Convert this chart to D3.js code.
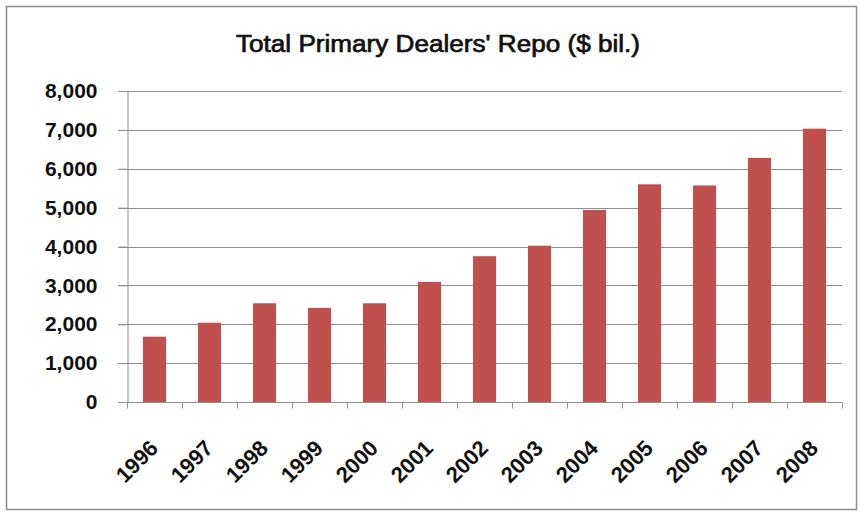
<!DOCTYPE html>
<html>
<head>
<meta charset="utf-8">
<script src="https://cdn.jsdelivr.net/npm/d3@7"></script>
<style>
  body { margin: 0; background: #fff; }
  svg { display: block; }
  text { font-family: "Liberation Sans", Arial, sans-serif; fill: #111; }
</style>
</head>
<body>
<div id="chart"></div>
<script>
var years = ["1996", "1997", "1998", "1999", "2000", "2001", "2002", "2003", "2004", "2005", "2006", "2007", "2008"];
var repo = [1680, 2040, 2540, 2420, 2540, 3090, 3750, 4020, 4940, 5600, 5570, 6280, 7030];
var yTicks = [0, 1000, 2000, 3000, 4000, 5000, 6000, 7000, 8000];
var chartTitle = "Total Primary Dealers' Repo ($ bil.)";

var w = 860, h = 513;
var margin = { top: 91, right: 18, bottom: 111, left: 127 };

var svg = d3.select("#chart").append("svg")
  .attr("width", w)
  .attr("height", h);

// outer frame
svg.append("rect")
  .attr("x", 6.5).attr("y", 6.5)
  .attr("width", 850).attr("height", 503)
  .attr("fill", "#fff")
  .attr("stroke", "#8c8c8c")
  .attr("stroke-width", 1.5);

// title: regular face thickened a little with a thin stroke
svg.append("text")
  .attr("x", 438).attr("y", 52)
  .attr("text-anchor", "middle")
  .attr("textLength", 404)
  .attr("lengthAdjust", "spacingAndGlyphs")
  .attr("stroke", "#111")
  .attr("stroke-width", 0.7)
  .style("font-size", "23px")
  .text(chartTitle);

var x = d3.scaleBand()
  .domain(years)
  .range([margin.left, w - margin.right])
  .paddingInner(0.58)
  .paddingOuter(0.29);

var y = d3.scaleLinear()
  .domain([0, 8000])
  .range([h - margin.bottom, margin.top]);

// gridlines
svg.append("g")
  .selectAll("line")
  .data(yTicks.slice(1))
  .enter().append("line")
  .attr("x1", margin.left - 9)
  .attr("x2", w - margin.right)
  .attr("y1", function(d) { return Math.round(y(d)) + 0.5; })
  .attr("y2", function(d) { return Math.round(y(d)) + 0.5; })
  .attr("stroke", "#8f8f8f")
  .attr("stroke-width", 1);

// bars
svg.append("g")
  .selectAll("rect")
  .data(repo)
  .enter().append("rect")
  .attr("x", function(d, i) { return x(years[i]); })
  .attr("y", function(d) { return y(d); })
  .attr("width", x.bandwidth())
  .attr("height", function(d) { return y(0) - y(d); })
  .attr("fill", "#c0504d");

// y axis
var yAxis = svg.append("g")
  .attr("transform", "translate(" + (margin.left + 0.5) + ",0)")
  .call(d3.axisLeft(y).tickValues(yTicks).tickSize(9).tickPadding(21)
    .tickFormat(d3.format(",")));
yAxis.select(".domain").attr("stroke", "#8f8f8f");
yAxis.selectAll(".tick line").attr("stroke", "#8f8f8f");
yAxis.selectAll("text")
  .style("font-size", "21px")
  .style("font-weight", "bold")
  .attr("fill", "#111");

// x axis, ticks at band boundaries
var xAxis = svg.append("g")
  .attr("transform", "translate(0," + (y(0) + 0.5) + ")");
xAxis.append("line")
  .attr("x1", margin.left).attr("x2", w - margin.right)
  .attr("stroke", "#8f8f8f");
var step = x.step();
xAxis.selectAll(".xtick")
  .data(d3.range(years.length + 1))
  .enter().append("line")
  .attr("class", "xtick")
  .attr("x1", function(i) { return Math.round(margin.left + i * step) + 0.5; })
  .attr("x2", function(i) { return Math.round(margin.left + i * step) + 0.5; })
  .attr("y1", 0).attr("y2", 6)
  .attr("stroke", "#8f8f8f");
xAxis.selectAll(".xlabel")
  .data(years)
  .enter().append("text")
  .attr("class", "xlabel")
  .attr("text-anchor", "end")
  .attr("transform", function(d) {
    return "translate(" + (x(d) + x.bandwidth() / 2 + 5) + ",47) rotate(-45)";
  })
  .style("font-size", "22px")
  .style("font-weight", "bold")
  .text(function(d) { return d; });
</script>
</body>
</html>
